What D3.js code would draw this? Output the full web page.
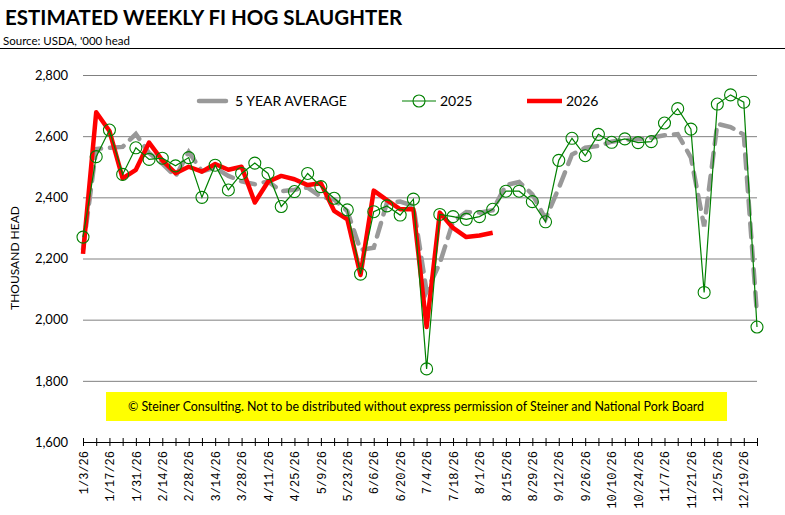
<!DOCTYPE html>
<html>
<head>
<meta charset="utf-8">
<script src="https://cdn.jsdelivr.net/npm/d3@7"></script>
<style>
    body { margin: 0; background: #fff; }
    svg { display: block; font-family: Lato, "Open Sans", sans-serif; }
</style>
</head>
<body>
<svg id="chart" width="785" height="515"></svg>
<script>
// week ending dates (x axis categories)
const weeks = [
    "1/3/26", "1/10/26", "1/17/26", "1/24/26", "1/31/26", "2/7/26", "2/14/26", "2/21/26", "2/28/26",
    "3/7/26", "3/14/26", "3/21/26", "3/28/26", "4/4/26", "4/11/26", "4/18/26", "4/25/26",
    "5/2/26", "5/9/26", "5/16/26", "5/23/26", "5/30/26", "6/6/26", "6/13/26", "6/20/26", "6/27/26",
    "7/4/26", "7/11/26", "7/18/26", "7/25/26", "8/1/26", "8/8/26", "8/15/26", "8/22/26", "8/29/26",
    "9/5/26", "9/12/26", "9/19/26", "9/26/26", "10/3/26", "10/10/26", "10/17/26", "10/24/26", "10/31/26",
    "11/7/26", "11/14/26", "11/21/26", "11/28/26", "12/5/26", "12/12/26", "12/19/26", "12/26/26"
];

// '000 head
const avg5yr = [
    2230, 2558, 2562, 2565, 2607, 2545, 2510, 2468, 2548, 2485, 2497, 2470, 2452,
    2443, 2452, 2420, 2425, 2432, 2402, 2393, 2355, 2228, 2235, 2383, 2386, 2372,
    2092, 2185, 2320, 2352, 2350, 2358, 2440, 2450, 2410, 2330, 2430, 2540, 2562,
    2568, 2582, 2588, 2590, 2595, 2603, 2607, 2530, 2305, 2640, 2630, 2605, 2015
];

const y2025 = [
    2270, 2533, 2620, 2475, 2562, 2524, 2528, 2503, 2530, 2400, 2505, 2424, 2478,
    2512, 2478, 2370, 2419, 2478, 2435, 2397, 2359, 2149, 2353, 2372, 2342, 2394,
    1839, 2344, 2337, 2328, 2337, 2361, 2420, 2420, 2386, 2320, 2521, 2593, 2536,
    2606, 2580, 2591, 2579, 2582, 2643, 2690, 2623, 2089, 2705, 2735, 2711, 1976
];

const y2026 = [
    2215, 2678, 2617, 2462, 2490, 2579, 2521, 2479, 2500, 2484, 2509, 2490, 2500,
    2383, 2451, 2470, 2459, 2440, 2446, 2356, 2328, 2146, 2422, 2391, 2361, 2361,
    1976, 2350, 2300, 2270, 2275, 2284
];

const yTicks = [1600, 1800, 2000, 2200, 2400, 2600, 2800];

const svg = d3.select("#chart");

const x = d3.scalePoint().domain(weeks).range([83, 757]);
const y = d3.scaleLinear().domain([1600, 2800]).range([442, 75]);

// title block
svg.append("text")
    .attr("x", 5).attr("y", 25)
    .attr("font-size", 20.5).attr("font-weight", "bold")
    .text("ESTIMATED WEEKLY FI HOG SLAUGHTER");

svg.append("text")
    .attr("x", 3).attr("y", 45)
    .attr("font-size", 11.5)
    .text("Source: USDA, '000 head");

svg.append("line")
    .attr("x1", 0).attr("x2", 785)
    .attr("y1", 48.5).attr("y2", 48.5)
    .attr("stroke", "#000").attr("stroke-width", 1);

// gridlines + y labels
const yAxis = d3.axisLeft(y)
    .tickValues(yTicks)
    .tickSize(-(757 - 83))
    .tickPadding(15)
    .tickFormat(d3.format(","));

svg.append("g")
    .attr("transform", "translate(83,0)")
    .call(yAxis)
    .call(g => g.select(".domain").remove())
    .call(g => g.selectAll(".tick line").attr("stroke", "#808080"))
    .call(g => g.selectAll(".tick text")
        .attr("font-family", "Lato, sans-serif")
        .attr("font-size", 13).attr("fill", "#000"));

svg.append("text")
    .attr("transform", "translate(19,258) rotate(-90)")
    .attr("text-anchor", "middle")
    .attr("font-size", 12)
    .text("THOUSAND HEAD");

// x axis: tick at every week, label every other week
const xAxis = d3.axisBottom(x)
    .tickSizeInner(4)
    .tickSizeOuter(0)
    .tickFormat((d, i) => i % 2 === 0 ? d : "");

const gx = svg.append("g")
    .attr("transform", "translate(0,442)")
    .call(xAxis);

gx.select(".domain").attr("stroke", "#000");
gx.selectAll(".tick line")
    .attr("y1", -4).attr("y2", 4)
    .attr("stroke", "#000");
gx.selectAll(".tick text")
    .attr("font-family", "'Liberation Mono', 'DejaVu Sans Mono', monospace")
    .attr("font-size", 12)
    .attr("fill", "#000")
    .attr("text-anchor", "end")
    .attr("transform", "rotate(-90)")
    .attr("x", -9).attr("y", 0).attr("dy", "0.35em");

// copyright banner
svg.append("rect")
    .attr("x", 106).attr("y", 392)
    .attr("width", 621).attr("height", 29)
    .attr("fill", "#ffff00");

svg.append("text")
    .attr("x", 416).attr("y", 411)
    .attr("text-anchor", "middle")
    .attr("font-size", 12.4)
    .text("\u00a9 Steiner Consulting.  Not to be distributed without express permission of Steiner and National Pork Board");

// series
const line = d3.line()
    .x((d, i) => x(weeks[i]))
    .y(d => y(d));

svg.append("path")
    .datum(avg5yr)
    .attr("d", line)
    .attr("fill", "none")
    .attr("stroke", "#999")
    .attr("stroke-width", 4.5)
    .attr("stroke-dasharray", "14,9")
    .attr("stroke-linecap", "round");

svg.append("path")
    .datum(y2026)
    .attr("d", line)
    .attr("fill", "none")
    .attr("stroke", "#ff0000")
    .attr("stroke-width", 4.5)
    .attr("stroke-linejoin", "round");

svg.append("path")
    .datum(y2025)
    .attr("d", line)
    .attr("fill", "none")
    .attr("stroke", "#008000")
    .attr("stroke-width", 1.2);

svg.append("g")
    .selectAll("circle")
    .data(y2025)
    .enter().append("circle")
    .attr("cx", (d, i) => x(weeks[i]))
    .attr("cy", d => y(d))
    .attr("r", 6)
    .attr("fill", "none")
    .attr("stroke", "#008000")
    .attr("stroke-width", 1.1);

// legend
const legend = svg.append("g").attr("class", "legend");

legend.append("line")
    .attr("x1", 199).attr("x2", 226).attr("y1", 101).attr("y2", 101)
    .attr("stroke", "#999").attr("stroke-width", 4.5).attr("stroke-linecap", "round");
legend.append("text")
    .attr("x", 235).attr("y", 106).attr("font-size", 14)
    .text("5 YEAR AVERAGE");

legend.append("line")
    .attr("x1", 402).attr("x2", 436).attr("y1", 101).attr("y2", 101)
    .attr("stroke", "#008000").attr("stroke-width", 1.2);
legend.append("circle")
    .attr("cx", 419).attr("cy", 101).attr("r", 6)
    .attr("fill", "none").attr("stroke", "#008000").attr("stroke-width", 1.1);
legend.append("text")
    .attr("x", 440).attr("y", 106).attr("font-size", 14)
    .text("2025");

legend.append("line")
    .attr("x1", 527).attr("x2", 562).attr("y1", 101).attr("y2", 101)
    .attr("stroke", "#ff0000").attr("stroke-width", 4.5);
legend.append("text")
    .attr("x", 566).attr("y", 106).attr("font-size", 14)
    .text("2026");
</script>
</body>
</html>
